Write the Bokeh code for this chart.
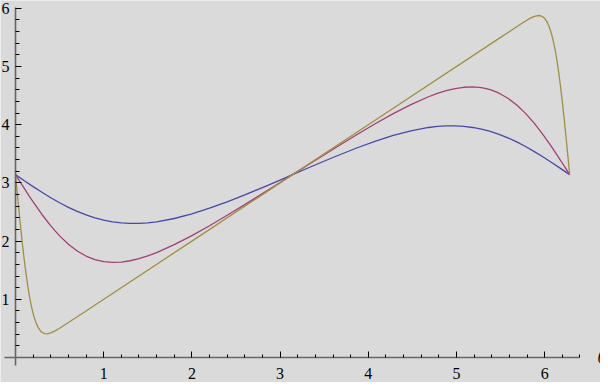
from bokeh.plotting import figure
from bokeh.models import FixedTicker, Range1d
from bokeh.core.properties import value
from bokeh.embed import file_html
from bokeh.resources import INLINE

# ---- data ----
x_blue = [0.0, 0.1, 0.2, 0.3, 0.4, 0.5, 0.6, 0.7, 0.8, 0.9, 1.0, 1.1, 1.2, 1.3, 1.4,
          1.5, 1.6, 1.8, 2.0, 2.2, 2.4, 2.6, 2.8, 3.0, 3.1416,
          3.2832, 3.4832, 3.6832, 3.8832, 4.0832, 4.2832, 4.4832, 4.6832, 4.7832,
          4.8832, 4.9832, 5.0832, 5.1832, 5.2832, 5.3832, 5.4832, 5.5832, 5.6832,
          5.7832, 5.8832, 5.9832, 6.0832, 6.1832, 6.2832]
y_blue = [3.1416, 3.038, 2.936, 2.838, 2.745, 2.658, 2.579, 2.509, 2.449, 2.399,
          2.359, 2.331, 2.312, 2.303, 2.304, 2.313, 2.331, 2.388, 2.467, 2.565,
          2.675, 2.795, 2.920, 3.049, 3.1416,
          3.234, 3.363, 3.488, 3.608, 3.718, 3.816, 3.895, 3.952, 3.970, 3.979,
          3.980, 3.971, 3.952, 3.924, 3.884, 3.834, 3.774, 3.704, 3.625, 3.538,
          3.445, 3.347, 3.245, 3.1416]

x_purple = [0.0, 0.05, 0.1, 0.15, 0.2, 0.3, 0.4, 0.5, 0.6, 0.7, 0.8, 0.9, 1.0, 1.1,
            1.2, 1.3, 1.4, 1.5, 1.6, 1.8, 2.0, 2.2, 2.4, 2.6, 2.8, 3.0, 3.1416,
            3.2832, 3.4832, 3.6832, 3.8832, 4.0832, 4.2832, 4.4832, 4.6832, 4.7832,
            4.8832, 4.9832, 5.0832, 5.1832, 5.2832, 5.3832, 5.4832, 5.5832, 5.6832,
            5.7832, 5.8832, 5.9832, 6.0832, 6.1332, 6.1832, 6.2332, 6.2832]
y_purple = [3.1416, 3.022, 2.904, 2.787, 2.673, 2.457, 2.261, 2.089, 1.945, 1.830,
            1.743, 1.683, 1.647, 1.634, 1.640, 1.662, 1.699, 1.746, 1.803, 1.938,
            2.094, 2.264, 2.443, 2.627, 2.816, 3.006, 3.1416,
            3.277, 3.467, 3.656, 3.841, 4.020, 4.189, 4.345, 4.480, 4.537, 4.585,
            4.621, 4.643, 4.649, 4.636, 4.601, 4.541, 4.454, 4.338, 4.194, 4.022,
            3.826, 3.610, 3.496, 3.380, 3.261, 3.1416]

x_gold = [0.0, 0.02, 0.04, 0.06, 0.08, 0.10, 0.12, 0.14, 0.16, 0.18, 0.20, 0.22,
          0.24, 0.26, 0.28, 0.30, 0.33, 0.36, 0.40, 0.45, 0.50, 0.60, 0.80, 2.0,
          4.0, 5.4832, 5.6832, 5.7832, 5.8332, 5.8832, 5.9232, 5.9532, 5.9832,
          6.0032, 6.0232, 6.0432, 6.0632, 6.0832, 6.1032, 6.1232, 6.1432, 6.1632,
          6.1832, 6.2032, 6.2232, 6.2432, 6.2632, 6.2832]
y_gold = [3.1416, 2.824, 2.512, 2.213, 1.930, 1.668, 1.431, 1.221, 1.038, 0.884,
          0.755, 0.651, 0.569, 0.508, 0.464, 0.434, 0.411, 0.407, 0.422, 0.457,
          0.502, 0.601, 0.80, 2.0, 4.0, 5.4832, 5.682, 5.781, 5.826, 5.861, 5.876,
          5.872, 5.849, 5.819, 5.775, 5.714, 5.632, 5.528, 5.402, 5.245, 5.062,
          4.852, 4.615, 4.353, 4.070, 3.771, 3.459, 3.1416]

major_ticks = [1, 2, 3, 4, 5, 6]
x_minor_ticks = [round(i * 0.2, 1) for i in range(1, 33) if i % 5]
y_minor_ticks = [round(i * 0.2, 1) for i in range(1, 30) if i % 5]
axis_name = "θ"

BG = "#dadada"
FONT = "Liberation Serif"

p = figure(width=600, height=382,
           x_range=Range1d(-0.170, 6.633), y_range=Range1d(-0.43, 6.134),
           output_backend="svg", toolbar_location=None, min_border=0,
           background_fill_color=BG, border_fill_color=BG,
           outline_line_color=None)
p.grid.visible = False

p.line(x_blue, y_blue, line_color="#4848aa", line_width=1.3)
p.line(x_purple, y_purple, line_color="#a23f74", line_width=1.3)
p.line(x_gold, y_gold, line_color="#a08f42", line_width=1.3)

for ax, minor, bounds, standoff in ((p.xaxis[0], x_minor_ticks, (-0.125, 6.4), 11),
                                    (p.yaxis[0], y_minor_ticks, (-0.13, 6.02), 6)):
    ax.fixed_location = 0
    ax.bounds = bounds
    ax.ticker = FixedTicker(ticks=major_ticks, minor_ticks=minor)
    ax.axis_line_color = "#666666"
    ax.axis_line_width = 1.6
    ax.major_tick_in = 6
    ax.major_tick_out = 0
    ax.minor_tick_in = 3
    ax.minor_tick_out = 0
    ax.major_tick_line_color = "black"
    ax.minor_tick_line_color = "black"
    ax.major_label_text_font = FONT
    ax.major_label_text_font_size = "16px"
    ax.major_label_text_color = "black"
    ax.major_label_standoff = standoff

p.yaxis[0].minor_tick_in = 4

p.text(x=[6.599], y=[0], text=[axis_name], text_font=value(FONT),
       text_font_style="italic", text_font_size="16px",
       text_baseline="middle", text_align="left", text_color="black")

open("out.html", "w").write(file_html(p, INLINE))
